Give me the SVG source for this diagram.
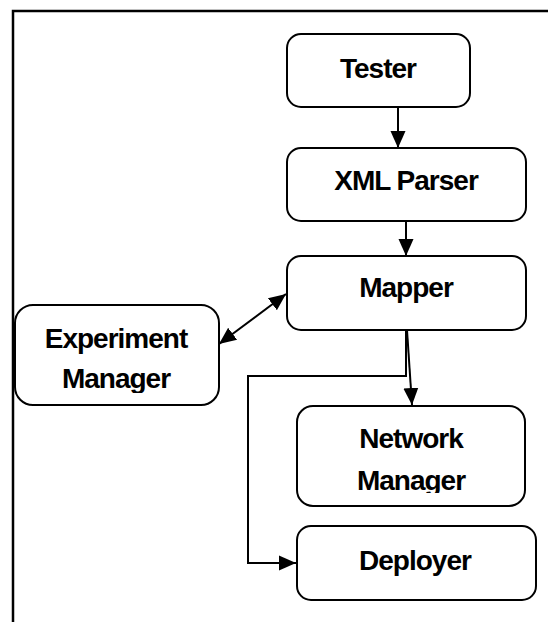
<svg xmlns="http://www.w3.org/2000/svg" width="548" height="622" viewBox="0 0 548 622">
<style>
.box{fill:#fff;stroke:#000;stroke-width:2}
.lbl{font-family:"Liberation Sans",Arial,sans-serif;font-weight:bold;font-size:28px;fill:#000;text-anchor:middle;letter-spacing:-1px}
.con{fill:none;stroke:#000;stroke-width:2}
</style>
<defs>
<marker id="ah" markerUnits="userSpaceOnUse" markerWidth="17" markerHeight="17" viewBox="0 0 17 17" refX="17" refY="8.5" orient="auto-start-reverse">
<path d="M0,1 L17,8.5 L0,16 Z" fill="#000"/>
</marker>
<clipPath id="cEM"><rect x="0" y="300" width="240" height="93"/></clipPath>
<clipPath id="cNM"><rect x="290" y="400" width="250" height="93"/></clipPath>
</defs>
<path d="M13,622 V11 H548" fill="none" stroke="#000" stroke-width="2.5"/>
<g id="tester"><rect class="box" x="287" y="34" width="183" height="73" rx="14"/><text class="lbl" x="378" y="78">Tester</text></g>
<g id="xmlparser"><rect class="box" x="287" y="148" width="239" height="73" rx="14"/><text class="lbl" x="406" y="190">XML Parser</text></g>
<g id="mapper"><rect class="box" x="287" y="256" width="239" height="74" rx="14"/><text class="lbl" x="406" y="297">Mapper</text></g>
<g id="experimentmanager"><rect class="box" x="15" y="305" width="204" height="100" rx="18"/><g clip-path="url(#cEM)"><text class="lbl" x="116" y="348">Experiment</text><text class="lbl" x="116" y="388">Manager</text></g></g>
<g id="networkmanager"><rect class="box" x="297" y="406" width="228" height="100" rx="16"/><g clip-path="url(#cNM)"><text class="lbl" x="411" y="448">Network</text><text class="lbl" x="411" y="490">Manager</text></g></g>
<g id="deployer"><rect class="box" x="297" y="526" width="239" height="74" rx="14"/><text class="lbl" x="415" y="570">Deployer</text></g>
<g id="connectors">
<line class="con" x1="398" y1="107" x2="398" y2="148" marker-end="url(#ah)"/>
<line class="con" x1="406" y1="221" x2="406" y2="256" marker-end="url(#ah)"/>
<line class="con" x1="219" y1="344" x2="286" y2="294" marker-start="url(#ah)" marker-end="url(#ah)"/>
<line class="con" x1="407" y1="330" x2="412" y2="405" marker-end="url(#ah)"/>
<polyline class="con" points="406,330 406,376 248,376 248,563 296,563" marker-end="url(#ah)"/>
</g>
</svg>
